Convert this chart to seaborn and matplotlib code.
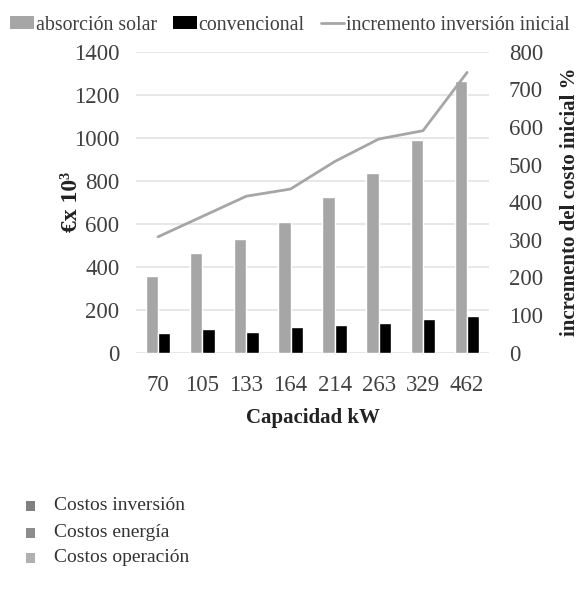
import matplotlib
matplotlib.use("Agg")
import matplotlib.pyplot as plt
from matplotlib.patches import Patch, Rectangle
from matplotlib.lines import Line2D
import seaborn as sns
import pandas as pd

# Data
capacities = ["70", "105", "133", "164", "214", "263", "329", "462"]
absorcion_solar = [357, 462, 529, 609, 726, 834, 989, 1265]
convencional = [93, 110, 98, 118, 130, 136, 157, 171]
incremento = [308, 362, 416, 435, 508, 568, 590, 745]

series_names = ["absorción solar", "convencional"]
line_name = "incremento inversión inicial"
extra_labels = ["Costos inversión", "Costos energía", "Costos operación"]

GRAY = "#a6a6a6"
BLACK = "#000000"
TEXT = "#404040"

sns.set_theme(style="white")
plt.rcParams["font.family"] = ["Liberation Serif", "DejaVu Serif"]

df = pd.DataFrame({
    "Capacidad": capacities * 2,
    "valor": absorcion_solar + convencional,
    "serie": [series_names[0]] * len(capacities) + [series_names[1]] * len(capacities),
})

fig = plt.figure(figsize=(5.81, 5.91), dpi=100)
ax = fig.add_axes([0.234, 0.4032, 0.608, 0.5093])

sns.barplot(data=df, x="Capacidad", y="valor", hue="serie",
            palette=[GRAY, BLACK], width=0.56, saturation=1,
            order=capacities, ax=ax, legend=False)

ax.set_ylim(0, 1400)
ax.set_yticks(range(0, 1401, 200))
ax.yaxis.grid(True, color="#e3e3e3", linewidth=1.2)
ax.set_axisbelow(True)
for s in ax.spines.values():
    s.set_visible(False)
ax.tick_params(axis="y", length=0, labelsize=16.5, colors=TEXT, pad=12)
ax.tick_params(axis="x", length=0, labelsize=16.5, colors=TEXT, pad=16)
ax.set_xlabel("Capacidad kW", fontsize=15, fontweight="bold", color="#222222", labelpad=9)
ax.set_ylabel("€x 10³", fontsize=17, fontweight="bold", color="#222222", labelpad=-6)

ax2 = ax.twinx()
sns.lineplot(x=capacities, y=incremento, sort=False, color=GRAY, linewidth=2,
             ax=ax2, legend=False)
ax2.set_ylim(0, 800)
ax2.set_yticks(range(0, 801, 100))
ax2.set_xlim(-0.5, len(capacities) - 0.5)
for s in ax2.spines.values():
    s.set_visible(False)
ax2.tick_params(axis="y", length=0, labelsize=16.5, colors=TEXT, pad=14)
ax2.set_ylabel("incremento del costo inicial %", fontsize=15, fontweight="bold",
               color="#222222", labelpad=12)
ax2.grid(False)

handles = [Patch(facecolor=GRAY, edgecolor="none"),
           Patch(facecolor=BLACK, edgecolor="none"),
           Line2D([0], [0], color=GRAY, linewidth=2)]
fig.legend(handles, series_names + [line_name], loc="upper left",
           bbox_to_anchor=(0.0, 0.99), ncol=3, frameon=False, fontsize=14.3,
           borderaxespad=0.3, borderpad=0.2,
           handlelength=1.2, handleheight=0.65, handletextpad=0.1,
           columnspacing=0.8, labelcolor=TEXT)

# Secondary key below the chart
extra_colors = ["#808080", "#8c8c8c", "#b0b0b0"]
extra_y = [0.145, 0.099, 0.057]
for lab, col, yy in zip(extra_labels, extra_colors, extra_y):
    fig.patches.append(Rectangle((0.045, yy - 0.009), 0.016, 0.016,
                                 transform=fig.transFigure,
                                 facecolor=col, edgecolor="none"))
    fig.text(0.093, yy, lab, fontsize=14, color="#333333", va="center", ha="left")

fig.savefig("out.png", dpi=100)
